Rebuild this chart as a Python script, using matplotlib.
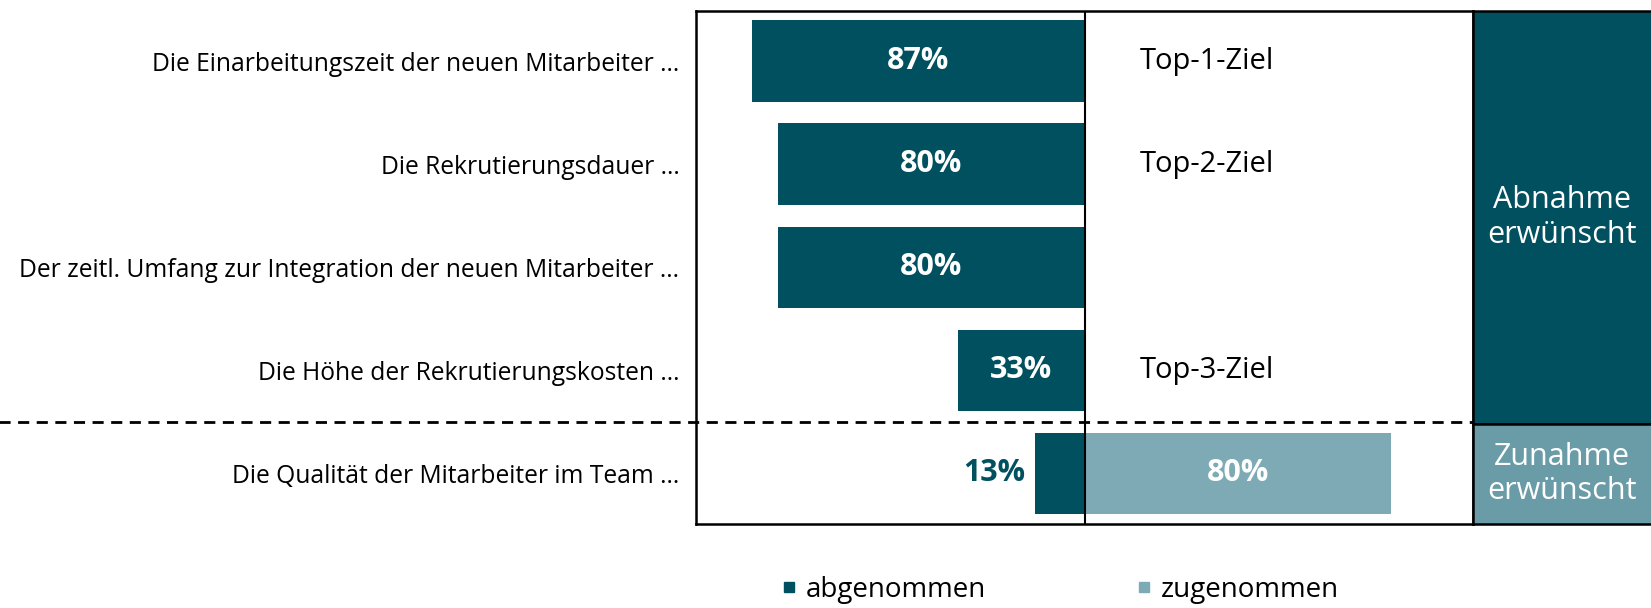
import matplotlib
matplotlib.use("Agg")
import matplotlib.pyplot as plt
from matplotlib.patches import Rectangle
from matplotlib.lines import Line2D
import matplotlib.transforms as mtransforms

plt.rcParams['font.family'] = ['Open Sans', 'DejaVu Sans']

categories = [
    "Die Einarbeitungszeit der neuen Mitarbeiter ...",
    "Die Rekrutierungsdauer ...",
    "Der zeitl. Umfang zur Integration der neuen Mitarbeiter ...",
    "Die Höhe der Rekrutierungskosten ...",
    "Die Qualität der Mitarbeiter im Team ...",
]
abgenommen = [87, 80, 80, 33, 13]
zugenommen = [0, 0, 0, 0, 80]
ziele = ["Top-1-Ziel", "Top-2-Ziel", "", "Top-3-Ziel", ""]
gruppen = ["Abnahme\nerwünscht", "Zunahme\nerwünscht"]
legend_labels = ["abgenommen", "zugenommen"]

DARK = "#00505F"
LIGHT = "#7EAAB5"
BOX_LIGHT = "#6A9CA8"

fig = plt.figure(figsize=(16.51, 6.08), dpi=100)
ax = fig.add_axes([0.4216, 0.1382, 0.4706, 0.8445])

y = list(range(len(categories)))
ax.barh(y, [-v for v in abgenommen], height=0.79, color=DARK)
ax.barh(y, zugenommen, height=0.79, color=LIGHT)

for yi, v in zip(y, abgenommen):
    if v >= 20:
        ax.text(-v / 2, yi, f"{v}%", ha="center", va="center", color="white",
                fontsize=22, fontweight="bold")
    else:
        ax.text(-v - 2.5, yi, f"{v}%", ha="right", va="center", color=DARK,
                fontsize=22, fontweight="bold")
for yi, v in zip(y, zugenommen):
    if v > 0:
        ax.text(v / 2, yi, f"{v}%", ha="center", va="center", color="white",
                fontsize=22, fontweight="bold")
for yi, z in zip(y, ziele):
    if z:
        ax.text(14.3, yi, z, ha="left", va="center", color="black", fontsize=21)

ax.axvline(0, color="black", lw=1.5)
ax.set_xlim(-101.5, 101.5)
ax.set_ylim(4.49, -0.49)
ax.set_yticks(y)
ax.set_yticklabels(categories, fontsize=17.7)
ax.tick_params(axis="y", length=0, pad=12)
ax.set_xticks([])
for s in ax.spines.values():
    s.set_linewidth(1.8)

trans = mtransforms.blended_transform_factory(ax.transAxes, ax.transData)
ax.plot([-0.9, 1.0], [3.5, 3.5], transform=trans, color="black", lw=2,
        ls=(0, (4, 2.7)), clip_on=False)

# right-side group boxes
top, mid, bot = 0.9827, 0.3026, 0.1382
x0, x1 = 0.8922, 1.0
fig.add_artist(Rectangle((x0, mid), x1 - x0 + 0.01, top - mid, transform=fig.transFigure,
                         facecolor=DARK, edgecolor="black", lw=1.8))
fig.add_artist(Rectangle((x0, bot), x1 - x0 + 0.01, mid - bot, transform=fig.transFigure,
                         facecolor=BOX_LIGHT, edgecolor="black", lw=1.8))
fig.text((x0 + x1) / 2, (top + mid) / 2, gruppen[0], ha="center", va="center",
         color="white", fontsize=22, linespacing=1.2)
fig.text((x0 + x1) / 2, (mid + bot) / 2, gruppen[1], ha="center", va="center",
         color="white", fontsize=22, linespacing=1.2)

handles = [Line2D([], [], marker="s", ls="", color=DARK, markersize=7),
           Line2D([], [], marker="s", ls="", color=LIGHT, markersize=7)]
fig.legend(handles, legend_labels, loc="center", bbox_to_anchor=(0.642, 0.03),
           ncol=2, frameon=False, fontsize=20, handlelength=0.6, handletextpad=0.3,
           columnspacing=5.4)

fig.savefig("out.png", dpi=100)
